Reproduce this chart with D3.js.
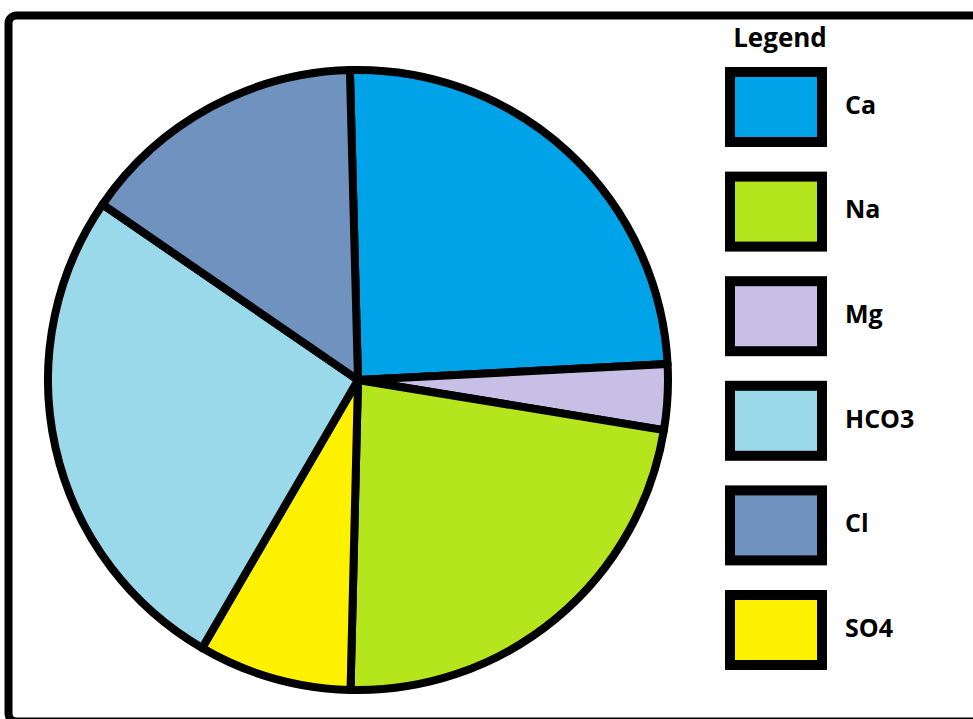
<!DOCTYPE html>
<html>
<head>
<meta charset="utf-8">
<script src="https://cdn.jsdelivr.net/npm/d3@7"></script>
<style>
  html, body { margin: 0; padding: 0; background: #fff; }
  svg { display: block; }
</style>
</head>
<body>
<svg id="chart" width="973" height="719"></svg>
<script>
// Ion composition (percent of total), clockwise from the top
const ions = ["Ca", "Mg", "Na", "SO4", "HCO3", "Cl"];
const shares = [24.6, 3.4, 22.8, 8.0, 26.2, 15.0];
const ionColors = ["#00A2E8", "#C8BFE7", "#B5E61D", "#FFF200", "#99D9EA", "#7092BE"];

// Legend order
const legendItems = ["Ca", "Na", "Mg", "HCO3", "Cl", "SO4"];

const svg = d3.select("#chart");

// Outer frame
svg.append("rect")
  .attr("x", 8.5).attr("y", 15.5)
  .attr("width", 1000).attr("height", 706)
  .attr("rx", 8).attr("ry", 8)
  .attr("fill", "#fff")
  .attr("stroke", "#000")
  .attr("stroke-width", 8);

const color = d3.scaleOrdinal().domain(ions).range(ionColors);

// Pie
const cx = 358, cy = 380, r = 310;
const start = -1.5 * Math.PI / 180;
const pie = d3.pie().sort(null).value(d => d.v)
  .startAngle(start).endAngle(start + 2 * Math.PI);
const arc = d3.arc().innerRadius(0).outerRadius(r);

const slices = pie(ions.map((k, i) => ({ k, v: shares[i] })));

const g = svg.append("g").attr("transform", `translate(${cx},${cy})`);
g.selectAll("path.slice")
  .data(slices)
  .join("path")
  .attr("class", "slice")
  .attr("d", arc)
  .attr("fill", d => color(d.data.k))
  .attr("stroke", "#000")
  .attr("stroke-width", 8)
  .attr("stroke-linejoin", "round");

// Legend
const lg = svg.append("g");
lg.append("text")
  .attr("x", 780).attr("y", 47)
  .attr("text-anchor", "middle")
  .attr("font-family", "'Open Sans', sans-serif")
  .attr("font-weight", 700)
  .attr("font-size", 26)
  .attr("fill", "#000")
  .text("Legend");

const y = d3.scalePoint().domain(legendItems).range([107, 630]);

const rows = lg.selectAll("g.item")
  .data(legendItems)
  .join("g")
  .attr("class", "item")
  .attr("transform", d => `translate(0,${y(d)})`);

rows.append("rect")
  .attr("x", 730).attr("y", -35)
  .attr("width", 92).attr("height", 70)
  .attr("fill", d => color(d))
  .attr("stroke", "#000")
  .attr("stroke-width", 10);

rows.append("text")
  .attr("x", 845).attr("y", -2)
  .attr("dy", "0.35em")
  .attr("font-family", "'Open Sans', sans-serif")
  .attr("font-weight", 700)
  .attr("font-size", 25)
  .attr("fill", "#000")
  .text(d => d);
</script>
</body>
</html>
